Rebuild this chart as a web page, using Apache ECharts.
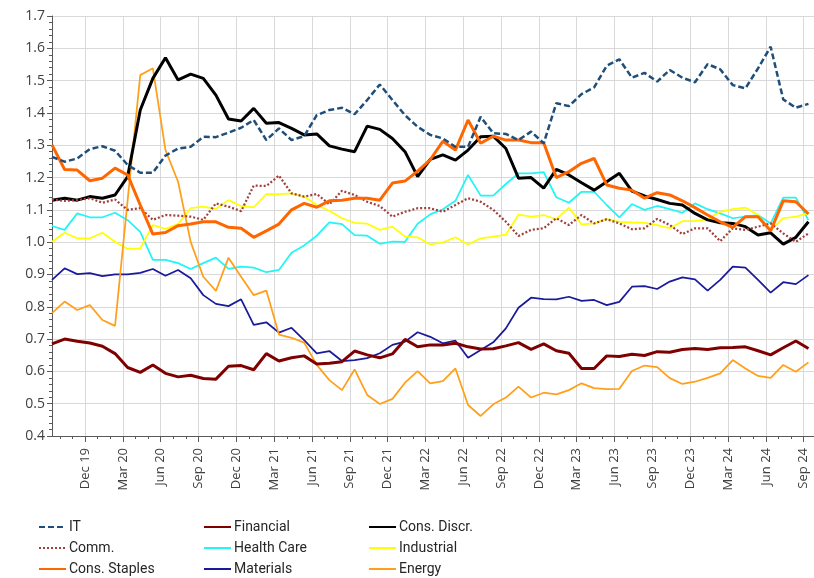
<!DOCTYPE html>
<html>
<head>
<meta charset="utf-8">
<script src="https://cdn.jsdelivr.net/npm/echarts@6/dist/echarts.min.js"></script>
<style>
  html, body { margin: 0; padding: 0; background: #fff; }
  #chart { width: 814px; height: 578px; }
</style>
</head>
<body>
<div id="chart"></div>
<script>
// monthly points, Sep 19 .. Sep 24 (61 months)
const tickLabels = ["Dec 19", "Mar 20", "Jun 20", "Sep 20", "Dec 20", "Mar 21", "Jun 21", "Sep 21",
  "Dec 21", "Mar 22", "Jun 22", "Sep 22", "Dec 22", "Mar 23", "Jun 23", "Sep 23", "Dec 23",
  "Mar 24", "Jun 24", "Sep 24"];

const it = [1.264, 1.249, 1.259, 1.288, 1.297, 1.283, 1.239, 1.215, 1.215, 1.268,
  1.29, 1.295, 1.326, 1.325, 1.339, 1.354, 1.378, 1.316, 1.352, 1.316,
  1.328, 1.393, 1.409, 1.416, 1.396, 1.44, 1.488, 1.44, 1.393, 1.357,
  1.332, 1.321, 1.295, 1.295, 1.388, 1.337, 1.335, 1.316, 1.342, 1.306,
  1.43, 1.421, 1.458, 1.479, 1.546, 1.566, 1.509, 1.524, 1.497, 1.533,
  1.509, 1.495, 1.551, 1.535, 1.486, 1.476, 1.538, 1.605, 1.442, 1.416,
  1.428];
const financial = [0.685, 0.70, 0.693, 0.688, 0.678, 0.655, 0.612, 0.597, 0.62, 0.594,
  0.583, 0.588, 0.578, 0.576, 0.616, 0.618, 0.605, 0.655, 0.632, 0.642,
  0.648, 0.623, 0.625, 0.63, 0.663, 0.651, 0.642, 0.654, 0.699, 0.676,
  0.682, 0.682, 0.687, 0.676, 0.669, 0.67, 0.679, 0.689, 0.668, 0.685,
  0.664, 0.656, 0.609, 0.609, 0.648, 0.646, 0.653, 0.649, 0.661, 0.659,
  0.668, 0.671, 0.668, 0.673, 0.674, 0.676, 0.664, 0.651, 0.673, 0.694,
  0.671];
const consDiscr = [1.13, 1.136, 1.13, 1.141, 1.136, 1.146, 1.203, 1.409, 1.507, 1.571,
  1.502, 1.52, 1.507, 1.455, 1.381, 1.375, 1.414, 1.368, 1.37, 1.352,
  1.332, 1.335, 1.298, 1.288, 1.28, 1.359, 1.349, 1.321, 1.28, 1.203,
  1.256, 1.27, 1.254, 1.285, 1.326, 1.328, 1.29, 1.198, 1.2, 1.167,
  1.225, 1.208, 1.184, 1.161, 1.187, 1.213, 1.158, 1.143, 1.132, 1.12,
  1.115, 1.089, 1.069, 1.06, 1.058, 1.048, 1.022, 1.029, 0.994, 1.015,
  1.063];
const comm = [1.132, 1.128, 1.13, 1.136, 1.122, 1.132, 1.1, 1.105, 1.069, 1.084,
  1.082, 1.079, 1.069, 1.12, 1.11, 1.096, 1.175, 1.174, 1.206, 1.151,
  1.141, 1.149, 1.117, 1.159, 1.146, 1.125, 1.112, 1.079, 1.094, 1.105,
  1.105, 1.094, 1.115, 1.136, 1.125, 1.1, 1.063, 1.019, 1.038, 1.043,
  1.074, 1.053, 1.084, 1.058, 1.071, 1.058, 1.04, 1.043, 1.072, 1.053,
  1.025, 1.043, 1.043, 1.003, 1.043, 1.038, 1.048, 1.058, 1.027, 1.001,
  1.027];
const healthCare = [1.05, 1.038, 1.089, 1.077, 1.077, 1.091, 1.068, 1.032, 0.945, 0.945,
  0.935, 0.917, 0.935, 0.952, 0.917, 0.924, 0.921, 0.907, 0.914, 0.967,
  0.99, 1.02, 1.061, 1.056, 1.022, 1.02, 0.995, 1.002, 1.001, 1.057,
  1.086, 1.102, 1.128, 1.208, 1.144, 1.144, 1.18, 1.213, 1.213, 1.217,
  1.139, 1.122, 1.156, 1.156, 1.115, 1.077, 1.118, 1.1, 1.112, 1.102,
  1.091, 1.12, 1.102, 1.089, 1.074, 1.079, 1.084, 1.058, 1.138, 1.138,
  1.068];
const industrial = [1.001, 1.029, 1.012, 1.012, 1.029, 1.001, 0.979, 0.981, 1.053, 1.041,
  1.056, 1.105, 1.11, 1.103, 1.13, 1.112, 1.108, 1.149, 1.149, 1.151,
  1.141, 1.115, 1.097, 1.074, 1.06, 1.057, 1.038, 1.048, 1.017, 1.015,
  0.993, 0.999, 1.015, 0.993, 1.012, 1.017, 1.023, 1.085, 1.079, 1.084,
  1.071, 1.107, 1.055, 1.058, 1.072, 1.063, 1.061, 1.06, 1.053, 1.043,
  1.065, 1.065, 1.071, 1.094, 1.102, 1.107, 1.084, 1.038, 1.074, 1.079,
  1.089];
const consStaples = [1.301, 1.225, 1.223, 1.19, 1.198, 1.229, 1.208, 1.115, 1.025, 1.03,
  1.051, 1.056, 1.063, 1.063, 1.046, 1.043, 1.015, 1.035, 1.056, 1.1,
  1.12, 1.108, 1.128, 1.13, 1.136, 1.136, 1.13, 1.183, 1.189, 1.22,
  1.255, 1.312, 1.285, 1.378, 1.306, 1.328, 1.316, 1.316, 1.308, 1.308,
  1.2, 1.218, 1.244, 1.259, 1.177, 1.167, 1.161, 1.136, 1.153, 1.146,
  1.128, 1.107, 1.084, 1.063, 1.046, 1.079, 1.079, 1.035, 1.128, 1.125,
  1.087];
const materials = [0.883, 0.919, 0.901, 0.904, 0.895, 0.9, 0.9, 0.905, 0.917, 0.896,
  0.914, 0.888, 0.836, 0.809, 0.802, 0.823, 0.744, 0.752, 0.72, 0.735,
  0.697, 0.656, 0.663, 0.632, 0.635, 0.641, 0.656, 0.682, 0.692, 0.721,
  0.707, 0.687, 0.695, 0.642, 0.666, 0.69, 0.733, 0.797, 0.828, 0.824,
  0.823, 0.831, 0.818, 0.821, 0.805, 0.815, 0.862, 0.864, 0.855, 0.878,
  0.891, 0.885, 0.85, 0.883, 0.924, 0.921, 0.883, 0.844, 0.876, 0.87,
  0.898];
const energy = [0.78, 0.816, 0.79, 0.805, 0.759, 0.741, 1.13, 1.517, 1.538, 1.285,
  1.187, 1.001, 0.893, 0.849, 0.952, 0.893, 0.836, 0.85, 0.714, 0.704,
  0.689, 0.62, 0.573, 0.542, 0.606, 0.527, 0.499, 0.515, 0.565, 0.601,
  0.563, 0.57, 0.609, 0.496, 0.462, 0.498, 0.519, 0.553, 0.519, 0.534,
  0.529, 0.542, 0.563, 0.548, 0.545, 0.546, 0.601, 0.618, 0.613, 0.579,
  0.561, 0.568, 0.58, 0.594, 0.635, 0.609, 0.586, 0.58, 0.62, 0.599,
  0.628];

// ticks sit a little before each month's point
const tickShift = 0.38;
const minorTicks = [];
for (let i = 1; i <= 60; i++) minorTicks.push(i - tickShift);
const majorTicks = tickLabels.map((_, k) => 3 + 3 * k - tickShift);

const axisFont = "'Open Sans', 'Liberation Sans', sans-serif";
const legendFont = "Roboto, 'Liberation Sans', sans-serif";

const chart = echarts.init(document.getElementById("chart"));

const mkLine = (name, data, color, width, type, z) => ({
  name,
  type: "line",
  xAxisIndex: 0,
  data: data.map((v, i) => [i, v]),
  showSymbol: false,
  symbol: "none",
  z: z,
  animation: false,
  lineStyle: { color, width, type },
  itemStyle: { color },
});

const legendBase = {
  orient: "vertical",
  top: 520,
  padding: 0,
  itemWidth: 27,
  itemHeight: 14,
  itemGap: 7,
  selectedMode: false,
  itemStyle: { opacity: 0 },
  textStyle: { fontFamily: legendFont, fontSize: 14, color: "#262626", lineHeight: 14, padding: [0, 0, 0, -2] },
};

chart.setOption({
  backgroundColor: "#fff",
  animation: false,
  grid: { left: 52, right: 0, top: 16, bottom: 142 },
  legend: [
    Object.assign({}, legendBase, { left: 38, data: ["IT", "Comm.", "Cons. Staples"] }),
    Object.assign({}, legendBase, { left: 203, data: ["Financial", "Health Care", "Materials"] }),
    Object.assign({}, legendBase, { left: 368, data: ["Cons. Discr.", "Industrial", "Energy"] }),
  ],
  xAxis: [
    {
      type: "value",
      min: 0,
      max: 60.44,
      position: "bottom",
      axisLine: { show: true, onZero: false, lineStyle: { color: "#595959", width: 1 } },
      axisTick: { show: true, length: 3, customValues: minorTicks, lineStyle: { color: "#595959" } },
      axisLabel: { show: false },
      splitLine: { show: false },
    },
    {
      type: "value",
      min: 0,
      max: 60.44,
      position: "bottom",
      axisLine: { show: false, onZero: false },
      axisTick: { show: true, length: 6, customValues: majorTicks, lineStyle: { color: "#595959" } },
      axisLabel: {
        show: true,
        customValues: majorTicks,
        rotate: 90,
        margin: 12,
        color: "#404040",
        fontFamily: axisFont,
        fontSize: 13,
        formatter: (v) => tickLabels[Math.round((v + tickShift - 3) / 3)],
      },
      splitLine: { show: true, lineStyle: { color: "#d9d9d9", width: 1 } },
    },
  ],
  yAxis: {
    type: "value",
    min: 0.4,
    max: 1.7,
    interval: 0.1,
    axisLine: { show: true, lineStyle: { color: "#595959" } },
    axisTick: { show: true, length: 5, lineStyle: { color: "#595959" } },
    minorTick: { show: true, splitNumber: 5, length: 3, lineStyle: { color: "#595959" } },
    axisLabel: {
      margin: 7,
      color: "#404040",
      fontFamily: axisFont,
      fontSize: 14,
      formatter: (v) => v.toFixed(1),
    },
    splitLine: { show: true, lineStyle: { color: "#d9d9d9", width: 1 } },
  },
  series: [
    mkLine("IT", it, "#1f4e79", 2.5, [6, 3], 9),
    mkLine("Financial", financial, "#7f0000", 3, "solid", 3),
    mkLine("Cons. Discr.", consDiscr, "#000000", 3, "solid", 4),
    mkLine("Comm.", comm, "#a0403c", 2.25, [2, 2], 5),
    mkLine("Health Care", healthCare, "#22f5f5", 1.75, "solid", 2),
    mkLine("Industrial", industrial, "#ffff00", 1.75, "solid", 2),
    mkLine("Cons. Staples", consStaples, "#ff6600", 3, "solid", 6),
    mkLine("Materials", materials, "#1a1a9a", 1.75, "solid", 2),
    mkLine("Energy", energy, "#ff9f1c", 1.75, "solid", 2),
  ],
});
</script>
</body>
</html>
